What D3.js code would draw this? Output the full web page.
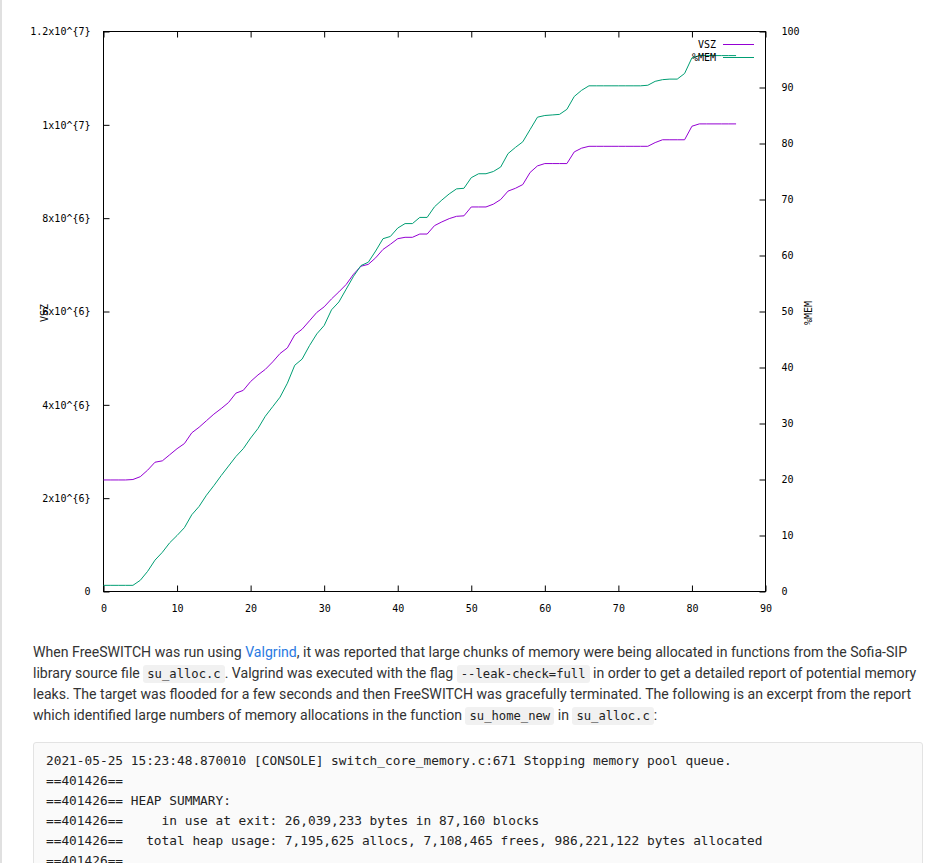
<!DOCTYPE html>
<html>
<head>
<meta charset="utf-8">
<script src="https://cdn.jsdelivr.net/npm/d3@7"></script>
<style>
  html, body { margin: 0; padding: 0; background: #fff; width: 939px; height: 863px; overflow: hidden; }
  #edge { position: absolute; left: 0; top: 0; width: 2px; height: 863px; background: #e0e0e0; }
  #chart { position: absolute; left: 0; top: 0; }
  #para { position: absolute; left: 33px; top: 642px; font-family: Roboto, "Noto Sans", sans-serif; font-size: 14.1px; line-height: 20.6px; color: #333; white-space: nowrap; }
  #para a { color: #2a7ae2; text-decoration: none; }
  #para code { font-family: "DejaVu Sans Mono", monospace; font-size: 12.2px; background: #f1f1f1; border-radius: 3px; padding: 2px 4px; color: #222; }
  #code { position: absolute; left: 33px; top: 742px; width: 890px; height: 140px; border: 1px solid #e3e3e3; border-radius: 3px; background: #fafafa; box-sizing: border-box; }
  #code pre { margin: 0; padding: 8px 12px; font-family: "DejaVu Sans Mono", monospace; font-size: 12.8px; line-height: 20px; color: #222; }
</style>
</head>
<body>
<div id="edge"></div>
<svg id="chart" width="939" height="630"></svg>
<div id="para"></div>
<div id="code"><pre id="codepre"></pre></div>
<script>
// ---- data ----
const seconds = d3.range(0, 87);
const vsz = [
  2.39e6, 2.39e6, 2.39e6, 2.39e6, 2.40e6, 2.46e6, 2.60e6, 2.77e6, 2.80e6, 2.93e6,
  3.06e6, 3.17e6, 3.40e6, 3.52e6, 3.66e6, 3.80e6, 3.92e6, 4.05e6, 4.25e6, 4.31e6,
  4.50e6, 4.64e6, 4.76e6, 4.92e6, 5.10e6, 5.22e6, 5.50e6, 5.62e6, 5.80e6, 5.98e6,
  6.10e6, 6.27e6, 6.42e6, 6.58e6, 6.80e6, 6.97e6, 7.01e6, 7.15e6, 7.33e6, 7.44e6,
  7.56e6, 7.59e6, 7.59e6, 7.66e6, 7.66e6, 7.84e6, 7.92e6, 7.99e6, 8.04e6, 8.05e6,
  8.24e6, 8.24e6, 8.24e6, 8.30e6, 8.40e6, 8.58e6, 8.64e6, 8.72e6, 8.98e6, 9.12e6,
  9.17e6, 9.17e6, 9.17e6, 9.17e6, 9.42e6, 9.50e6, 9.54e6, 9.54e6, 9.54e6, 9.54e6,
  9.54e6, 9.54e6, 9.54e6, 9.54e6, 9.54e6, 9.62e6, 9.68e6, 9.68e6, 9.68e6, 9.68e6,
  9.97e6, 10.02e6, 10.02e6, 10.02e6, 10.02e6, 10.02e6, 10.02e6
];
const mem = [
  1.1, 1.1, 1.1, 1.1, 1.1, 2.0, 3.6, 5.6, 7.0, 8.7,
  10.0, 11.4, 13.7, 15.2, 17.2, 18.9, 20.7, 22.4, 24.1, 25.5,
  27.4, 29.1, 31.3, 33.0, 34.7, 37.2, 40.4, 41.5, 43.9, 46.0,
  47.5, 50.3, 51.7, 54.0, 56.3, 58.2, 58.8, 60.8, 63.0, 63.4,
  64.9, 65.7, 65.7, 66.8, 66.8, 68.7, 69.9, 71.0, 71.9, 72.0,
  73.9, 74.6, 74.6, 75.0, 75.8, 78.2, 79.3, 80.3, 82.5, 84.7,
  85.0, 85.1, 85.2, 86.1, 88.4, 89.5, 90.3, 90.3, 90.3, 90.3,
  90.3, 90.3, 90.3, 90.3, 90.4, 91.1, 91.4, 91.5, 91.5, 92.5,
  95.3, 95.7, 95.7, 95.7, 95.7, 95.7, 95.7
];
const xTicks = [0, 10, 20, 30, 40, 50, 60, 70, 80, 90];
const yTicks = [0, 2e6, 4e6, 6e6, 8e6, 1e7, 1.2e7];
const yTickLabels = ["0", "2x10^{6}", "4x10^{6}", "6x10^{6}", "8x10^{6}", "1x10^{7}", "1.2x10^{7}"];
const y2Ticks = [0, 10, 20, 30, 40, 50, 60, 70, 80, 90, 100];
const seriesNames = ["VSZ", "%MEM"];
const seriesColors = ["#9400d3", "#009e73"];

// ---- chart ----
const svg = d3.select("#chart");
const L = 103.5, R = 765.5, T = 31.5, B = 591.5;
const x = d3.scaleLinear().domain([0, 90]).range([L, R]);
const y = d3.scaleLinear().domain([0, 1.2e7]).range([B, T]);
const y2 = d3.scaleLinear().domain([0, 100]).range([B, T]);
const tickFont = '"DejaVu Sans Mono", monospace';
const TL = 6;

const g = svg.append("g");

const bottomAxis = d3.axisBottom(x).tickValues(xTicks).tickSize(-TL).tickPadding(TL + 7).tickFormat(d3.format("d"));
const topAxis = d3.axisTop(x).tickValues(xTicks).tickSize(-TL).tickFormat("");
const leftAxis = d3.axisLeft(y).tickValues(yTicks).tickSize(-TL).tickPadding(TL + 7).tickFormat((d, i) => yTickLabels[i]);
const rightAxis = d3.axisRight(y2).tickValues(y2Ticks).tickSize(-TL).tickPadding(TL + 10).tickFormat(d3.format("d"));

function styleAxis(sel) {
  sel.select(".domain").remove();
  sel.selectAll(".tick line").attr("stroke", "#000");
  sel.selectAll("text").attr("font-family", tickFont).attr("font-size", 10).attr("fill", "#000");
}
g.append("g").attr("transform", `translate(0,${B})`).call(bottomAxis).call(styleAxis);
g.append("g").attr("transform", `translate(0,${T})`).call(topAxis).call(styleAxis);
g.append("g").attr("transform", `translate(${L},0)`).call(leftAxis).call(styleAxis);
g.append("g").attr("transform", `translate(${R},0)`).call(rightAxis).call(styleAxis);

g.append("rect").attr("x", L).attr("y", T).attr("width", R - L).attr("height", B - T)
  .attr("fill", "none").attr("stroke", "#000").attr("stroke-width", 1);

svg.append("text").attr("transform", `translate(48,313) rotate(-90)`).attr("text-anchor", "middle")
  .attr("font-family", tickFont).attr("font-size", 10).text("VSZ");
svg.append("text").attr("transform", `translate(812,313) rotate(-90)`).attr("text-anchor", "middle")
  .attr("font-family", tickFont).attr("font-size", 10).text("%MEM");

const lineV = d3.line().x((d, i) => x(seconds[i])).y(d => y(d));
const lineM = d3.line().x((d, i) => x(seconds[i])).y(d => y2(d));
g.append("path").datum(vsz).attr("d", lineV).attr("fill", "none").attr("stroke", seriesColors[0]).attr("stroke-width", 1);
g.append("path").datum(mem).attr("d", lineM).attr("fill", "none").attr("stroke", seriesColors[1]).attr("stroke-width", 1);

const leg = svg.append("g");
seriesNames.forEach((n, i) => {
  const yy = 44.5 + i * 13;
  leg.append("text").attr("x", 716).attr("y", yy + 3.5).attr("text-anchor", "end")
    .attr("font-family", tickFont).attr("font-size", 10).text(n);
  leg.append("line").attr("x1", 723).attr("x2", 754).attr("y1", yy).attr("y2", yy)
    .attr("stroke", seriesColors[i]).attr("stroke-width", 1);
});

// ---- text ----
const paraLines = [
  'When FreeSWITCH was run using <a href="#">Valgrind</a>, it was reported that large chunks of memory were being allocated in functions from the Sofia-SIP',
  'library source file <code>su_alloc.c</code>. Valgrind was executed with the flag <code>--leak-check=full</code> in order to get a detailed report of potential memory',
  'leaks. The target was flooded for a few seconds and then FreeSWITCH was gracefully terminated. The following is an excerpt from the report',
  'which identified large numbers of memory allocations in the function <code>su_home_new</code> in <code>su_alloc.c</code>:'
];
d3.select("#para").html(paraLines.join("<br>"));
const codeLines = [
  "2021-05-25 15:23:48.870010 [CONSOLE] switch_core_memory.c:671 Stopping memory pool queue.",
  "==401426==",
  "==401426== HEAP SUMMARY:",
  "==401426==     in use at exit: 26,039,233 bytes in 87,160 blocks",
  "==401426==   total heap usage: 7,195,625 allocs, 7,108,465 frees, 986,221,122 bytes allocated",
  "==401426=="
];
d3.select("#codepre").text(codeLines.join("\n"));
</script>
</body>
</html>
